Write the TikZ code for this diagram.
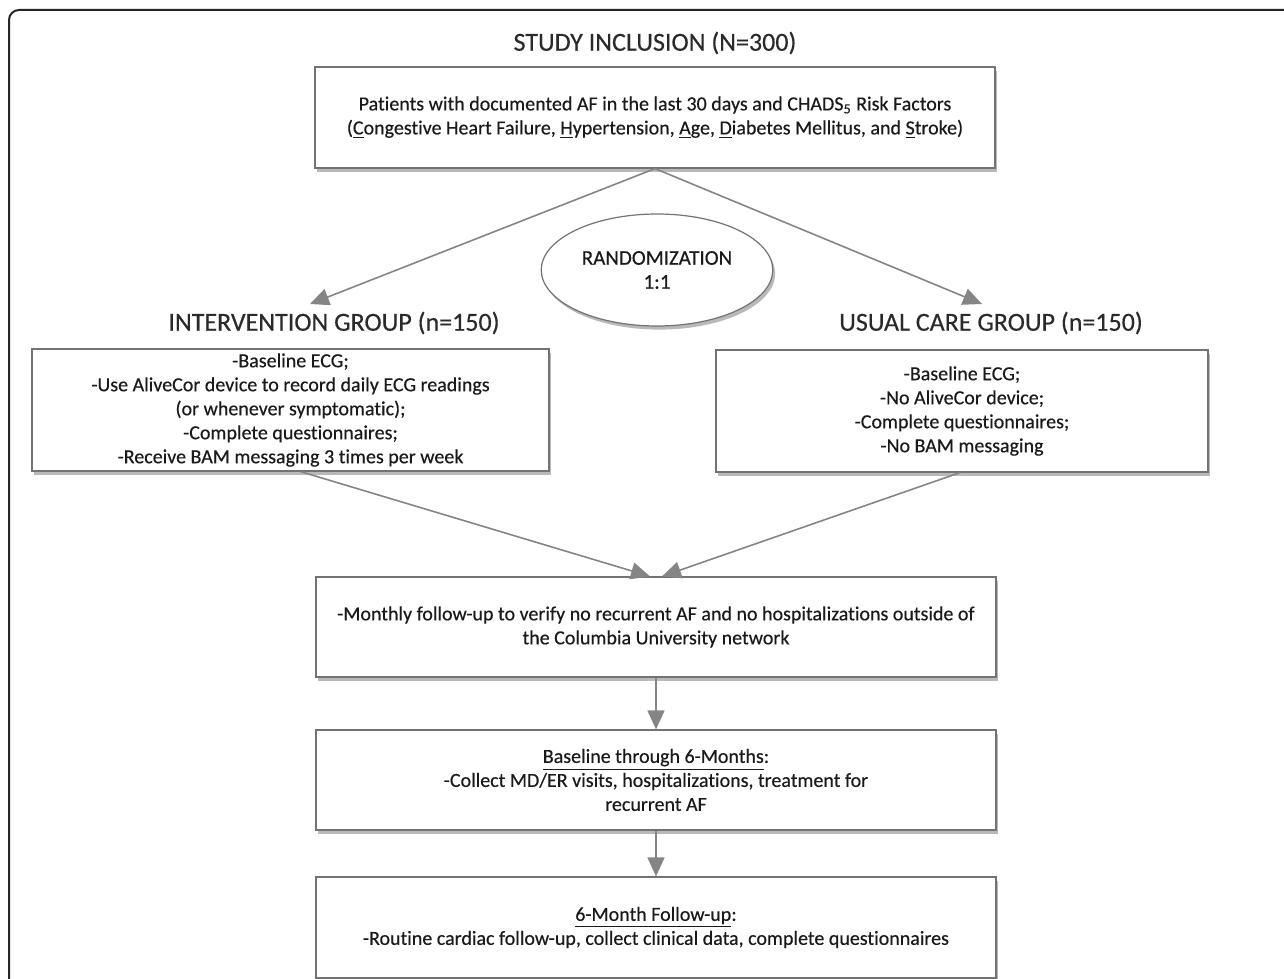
\documentclass[tikz,border=0pt]{standalone}
\usepackage{fontspec}
\setmainfont{Carlito}[Ligatures=NoCommon, UprightFeatures={FakeBold=0.35}]
\usetikzlibrary{arrows.meta, shapes.geometric, shadows}
\definecolor{linegray}{HTML}{858585}
\definecolor{textdark}{HTML}{1A1A1A}
\definecolor{headgray}{HTML}{2A2A2A}

\begin{document}
\begin{tikzpicture}[x=0.5pt, y=-0.5pt,
    box/.style={draw=black!55, fill=white, line width=0.6pt, inner sep=0pt,
      drop shadow={shadow xshift=1.2pt, shadow yshift=-1.8pt, opacity=0.55},
      font=\fontsize{10}{12}\selectfont, text=textdark, align=center},
    heading/.style={font=\fontsize{13}{15}\selectfont, text=headgray},
    flow/.style={draw=linegray, line width=0.8pt, -{Triangle[length=9.5pt, width=8.5pt]}}]
    \clip (0,0) rectangle (1284,979);
    % Rahmen
    \draw[black!85, line width=1pt, rounded corners=5pt] (9,10) rectangle (1320,1020);
    % Einschluss
    \node[heading] (inclusion) at (655,43) {STUDY INCLUSION (N=300)};
    \node[box, minimum width=340pt, minimum height=50.5pt] (patients) at (655,117.5)
      {Patients with documented AF in the last 30 days and CHADS\textsubscript{5} Risk Factors\\
       (\underline{C}ongestive Heart Failure, \underline{H}ypertension, \underline{A}ge, \underline{D}iabetes Mellitus, and \underline{S}troke)};
    % Randomisierung
    \node[ellipse, draw=black!55, fill=white, line width=0.6pt, minimum width=112pt, minimum height=56pt,
      drop shadow={shadow xshift=1.2pt, shadow yshift=-1.8pt, opacity=0.55},
      font=\fontsize{10.5}{12}\selectfont, text=textdark, align=center] (random) at (657,270)
      {RANDOMIZATION\\1:1};
    \coordinate (inttip) at (310,304);
    \coordinate (usualtip) at (982,304);
    \draw[flow] (patients.south) -- (inttip);
    \draw[flow] (patients.south) -- (usualtip);
    % Gruppen
    \node[heading] (inthead) at (334,323) {INTERVENTION GROUP (n=150)};
    \node[heading] (usualhead) at (991,323) {USUAL CARE GROUP (n=150)};
    \node[box, minimum width=258.5pt, minimum height=61pt] (intbox) at (290.5,410)
      {-Baseline ECG;\\
       -Use AliveCor device to record daily ECG readings\\
       (or whenever symptomatic);\\
       -Complete questionnaires;\\
       -Receive BAM messaging 3 times per week};
    \node[box, minimum width=246pt, minimum height=61pt] (usualbox) at (962,411)
      {-Baseline ECG;\\
       -No AliveCor device;\\
       -Complete questionnaires;\\
       -No BAM messaging};
    % Nachsorge
    \node[box, minimum width=340pt, minimum height=50pt] (followbox) at (656,627)
      {-Monthly follow-up to verify no recurrent AF and no hospitalizations outside of\\
       the Columbia University network};
    \node[box, minimum width=340pt, minimum height=50pt] (baselinebox) at (656,780)
      {\underline{Baseline through 6-Months}:\\
       -Collect MD/ER visits, hospitalizations, treatment for\\
       recurrent AF};
    \node[box, minimum width=340pt, minimum height=50.5pt] (sixbox) at (656,927.5)
      {\underline{6-Month Follow-up}:\\
       -Routine cardiac follow-up, collect clinical data, complete questionnaires};
    % Pfeile
    \draw[flow] ([xshift=5pt]intbox.south) -- ([xshift=-3pt]followbox.north);
    \draw[flow] ([xshift=-1pt]usualbox.south) -- ([xshift=3pt]followbox.north);
    \draw[flow] (followbox) -- (baselinebox);
    \draw[flow] (baselinebox) -- (sixbox);
\end{tikzpicture}
\end{document}
